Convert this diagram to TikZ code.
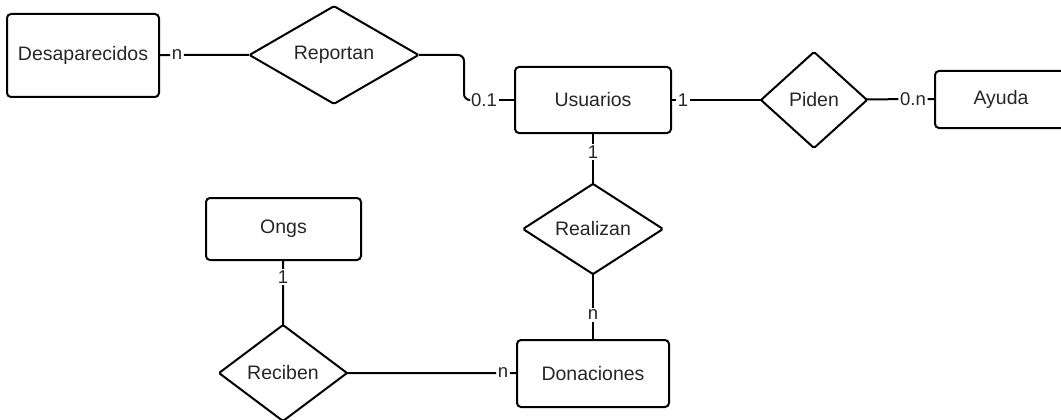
\documentclass[tikz,border=0pt]{standalone}
\usepackage{fontspec}
\setmainfont{Liberation Sans}
\usetikzlibrary{shapes.geometric}

\begin{document}
\begin{tikzpicture}[
    x=1pt, y=-1pt,
    font=\fontsize{19.5}{22}\selectfont,
    text=black!85,
    entity/.style={draw, rounded corners=4pt, inner sep=0pt},
    rel/.style={draw, diamond, rounded corners=1.5pt, inner sep=0pt, outer sep=0pt},
    card/.style={font=\fontsize{18.5}{20}\selectfont, inner sep=0.8pt},
    line width=2pt
]

    \useasboundingbox (0, 0) rectangle (1061, 420);

    % Coordinates
    \coordinate (desap_c) at (83, 55.5);
    \coordinate (usu_c) at (593, 100);
    \coordinate (ayuda_c) at (1001, 99.5);
    \coordinate (ongs_c) at (283.5, 229);
    \coordinate (don_c) at (593, 373.5);

    \coordinate (bend_top) at (464, 55);
    \coordinate (bend_bot) at (464, 100);

    % Entities
    \node[entity, minimum width=152pt, minimum height=83pt] (desap) at (desap_c) {Desaparecidos};
    \node[entity, minimum width=156pt, minimum height=66pt] (usuarios) at (usu_c) {Usuarios};
    \node[entity, minimum width=132pt, minimum height=57pt] (ayuda) at (ayuda_c) {Ayuda};
    \node[entity, minimum width=155pt, minimum height=62pt] (ongs) at (ongs_c) {Ongs};
    \node[entity, minimum width=152pt, minimum height=67pt] (donaciones) at (don_c) {Donaciones};

    % Relations
    \node[rel, minimum width=169pt, minimum height=94pt] (reportan) at (334, 55) {Reportan};
    \node[rel, minimum width=106pt, minimum height=96pt] (piden) at (814, 100) {Piden};
    \node[rel, minimum width=140pt, minimum height=86pt] (realizan) at (593, 229) {Realizan};
    \node[rel, minimum width=128pt, minimum height=96pt] (reciben) at (283, 373) {Reciben};

    % Cardinalities
    \node[card] (c_desap) at (177, 55) {n};
    \node[card] (c_usu_rep) at (484, 100) {0.1};
    \node[card] (c_usu_pid) at (683, 100) {1};
    \node[card] (c_ayuda) at (913, 99) {0.n};
    \node[card] (c_usu_real) at (593, 152) {1};
    \node[card] (c_don_real) at (593, 315) {n};
    \node[card] (c_ongs) at (283, 277) {1};
    \node[card] (c_don_rec) at (503, 373) {n};

    % Connectors
    \draw (desap) -- (c_desap) -- (reportan);
    \draw[rounded corners=6pt] (reportan.east) -- (bend_top) -- (bend_bot) -- (c_usu_rep.west);
    \draw (c_usu_rep) -- (usuarios);
    \draw (usuarios) -- (c_usu_pid) -- (piden);
    \draw (piden) -- (c_ayuda) -- (ayuda);
    \draw (usuarios) -- (c_usu_real) -- (realizan);
    \draw (realizan) -- (c_don_real) -- (donaciones);
    \draw (ongs) -- (c_ongs) -- (reciben);
    \draw (reciben) -- (c_don_rec) -- (donaciones);

\end{tikzpicture}
\end{document}
